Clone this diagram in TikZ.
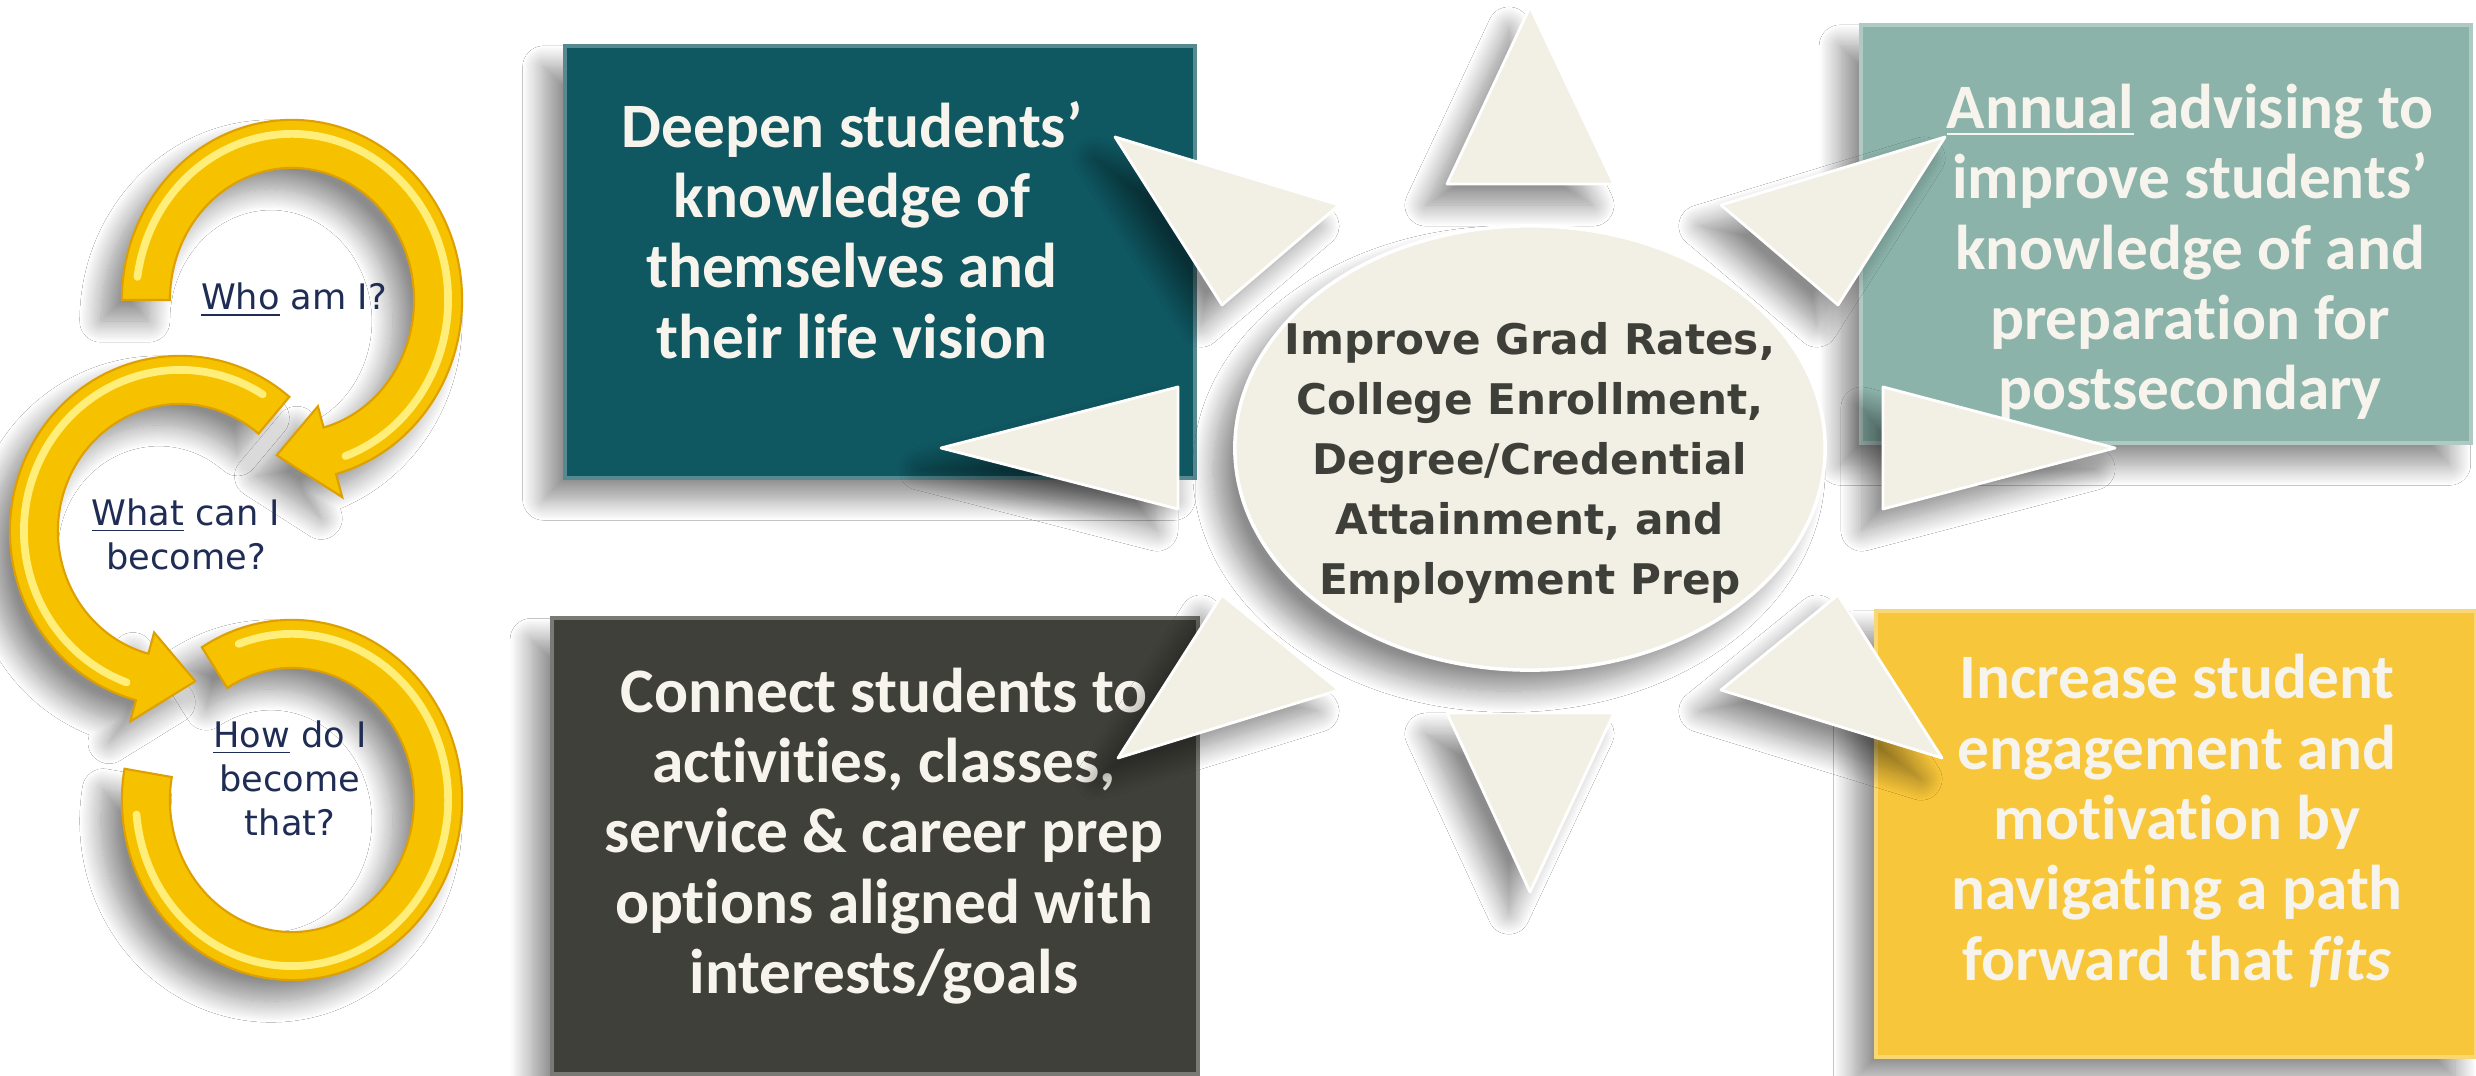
\documentclass[tikz,border=0pt]{standalone}
\usepackage{fontspec}
\setmainfont{Carlito}[Ligatures={TeX,NoCommon}]
\newfontfamily\hubfont{DejaVu Sans}
\usetikzlibrary{shapes.geometric, shadows.blur}

\definecolor{tealbox}{HTML}{0F5761}
\definecolor{slatebox}{HTML}{40403A}
\definecolor{sagebox}{HTML}{8BB3AA}
\definecolor{goldbox}{HTML}{F8C63A}
\definecolor{cream}{HTML}{F2EFE4}
\definecolor{creamtext}{HTML}{F6F4EC}
\definecolor{hubgray}{HTML}{3F3F3A}
\definecolor{navytext}{HTML}{1F2D55}
\definecolor{ringgold}{HTML}{F6C200}
\definecolor{ringedge}{HTML}{DDA000}
\definecolor{ringlight}{HTML}{FFEF7A}

\begin{document}
\begin{tikzpicture}[
    x=0.01cm, y=0.01cm,
    softshadow/.style={blur shadow={shadow xshift=-6pt, shadow yshift=-6pt,
                       shadow blur radius=6pt, shadow blur steps=20,
                       shadow opacity=45}},
    goalbox/.style={rectangle, draw=#1!70!white, line width=1.2pt,
                    fill=#1, softshadow, inner sep=0pt},
    goaltext/.style={align=center, text=creamtext,
                     font=\fontsize{18}{20}\selectfont\bfseries},
    ray/.style={fill=cream, draw=white, line width=0.8pt, line join=round,
                softshadow},
    hub/.style={ellipse, fill=cream, draw=white, line width=1pt,
                minimum width=5.90cm, minimum height=4.44cm, softshadow},
    hubtext/.style={align=center, text=hubgray,
                    font=\hubfont\bfseries\fontsize{12}{17}\selectfont},
    ring/.style={fill=ringgold, draw=ringedge, line width=0.6pt, softshadow},
    shine/.style={draw=ringlight, line width=2.2pt, line cap=round},
    question/.style={align=center, text=navytext,
                     font=\hubfont\fontsize{10}{12.5}\selectfont}
  ]
  \useasboundingbox[fill=white] (0,0) rectangle (2476,1076);

  % goal boxes
  \node[goalbox=tealbox, minimum width=6.30cm, minimum height=4.32cm]
    (deepen) at (880,814) {};
  \node[goalbox=slatebox, minimum width=6.45cm, minimum height=4.55cm]
    (connect) at (875,230) {};
  \node[goalbox=sagebox, minimum width=6.09cm, minimum height=4.18cm]
    (annual) at (2166,842) {};
  \node[goalbox=goldbox, minimum width=6.00cm, minimum height=4.46cm]
    (engage) at (2176,242) {};

  \node[goaltext] (deepentxt) at (852,846)
    {Deepen students’\\knowledge of\\themselves and\\their life vision};
  \node[goaltext] (connecttxt) at (884,240)
    {Connect students to\\activities, classes,\\service \& career prep\\options aligned with\\interests/goals};
  \node[goaltext] (annualtxt) at (2190,824)
    {\underline{Annual} advising to\\improve students’\\knowledge of and\\preparation for\\postsecondary};
  \node[goaltext] (engagetxt) at (2177,255)
    {Increase student\\engagement and\\motivation by\\navigating a path\\forward that \textit{fits}};

  % rays round the hub
  \foreach \tip/\pa/\pb in {{1530,1069}/{1447,892}/{1614,892},
                            {1530,184}/{1447,363}/{1614,363},
                            {941,628}/{1178,689}/{1178,567},
                            {2115,628}/{1883,689}/{1883,567},
                            {1115,939}/{1222,771}/{1339,871},
                            {1945,939}/{1838,771}/{1721,871},
                            {1118,318}/{1222,481}/{1339,386},
                            {1942,318}/{1838,481}/{1721,386}}
    \path[ray] (\tip) -- (\pa) -- (\pb) -- cycle;

  % hub
  \node[hub] (hub) at (1530,628) {};
  \node[hubtext] (hubtxt) at (1530,613)
    {Improve Grad Rates,\\College Enrollment,\\Degree/Credential\\Attainment, and\\Employment Prep};

  % spiral of questions
  \begin{scope}[shift={(292,276)}]
    \path[ring] (122:1.70cm and 1.80cm)
      arc[start angle=122, end angle=-190, x radius=1.70cm, y radius=1.80cm]
      -- (-190:1.22cm and 1.32cm)
      arc[start angle=-190, end angle=122, x radius=1.22cm, y radius=1.32cm]
      -- cycle;
    \draw[shine] (110:1.56cm and 1.66cm)
      arc[start angle=110, end angle=-175, x radius=1.56cm, y radius=1.66cm];
  \end{scope}
  \begin{scope}[shift={(180,545)}]
    \path[ring] (50:1.70cm and 1.75cm)
      arc[start angle=50, end angle=255, x radius=1.70cm, y radius=1.75cm]
      -- (255:1.92cm and 1.97cm) -- (276:1.46cm and 1.51cm)
      -- (255:1.00cm and 1.05cm) -- (255:1.22cm and 1.27cm)
      arc[start angle=255, end angle=50, x radius=1.22cm, y radius=1.27cm]
      -- cycle;
    \draw[shine] (58:1.56cm and 1.61cm)
      arc[start angle=58, end angle=250, x radius=1.56cm, y radius=1.61cm];
  \end{scope}
  \begin{scope}[shift={(292,776)}]
    \path[ring] (180:1.70cm and 1.80cm)
      arc[start angle=180, end angle=-75, x radius=1.70cm, y radius=1.80cm]
      -- (-75:1.94cm and 2.04cm) -- (-96:1.46cm and 1.56cm)
      -- (-75:1.00cm and 1.10cm) -- (-75:1.22cm and 1.32cm)
      arc[start angle=-75, end angle=180, x radius=1.22cm, y radius=1.32cm]
      -- cycle;
    \draw[shine] (172:1.56cm and 1.66cm)
      arc[start angle=172, end angle=-70, x radius=1.56cm, y radius=1.66cm];
  \end{scope}

  \node[question] (who) at (294,776) {\underline{Who} am I?};
  \node[question] (what) at (186,542) {\underline{What} can I\\become?};
  \node[question] (how) at (290,298) {\underline{How} do I\\become\\that?};
\end{tikzpicture}
\end{document}
